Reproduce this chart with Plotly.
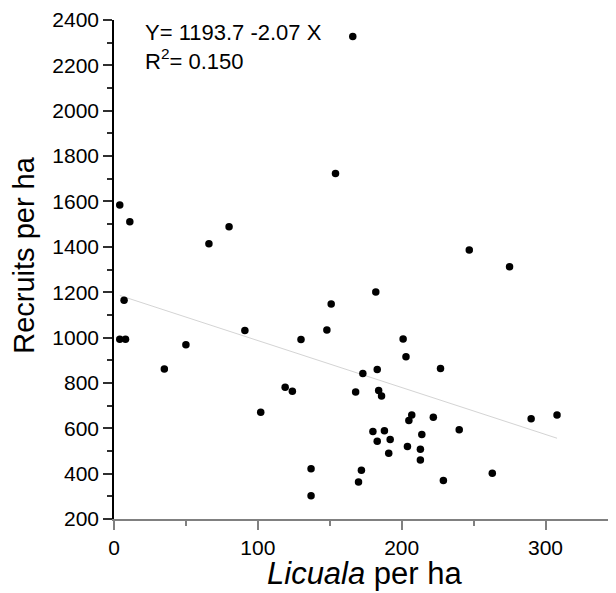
import plotly.graph_objects as go

# Licuala per ha (x) and Recruits per ha (y)
licuala = [7, 4, 8, 35, 50, 91, 130, 119, 124, 102, 137, 137,
           148, 151, 182, 201, 203, 227, 183, 173, 168, 184, 186, 290, 308,
           207, 205, 222, 240, 180, 188, 183, 192, 214, 191, 204, 213, 213,
           172, 170, 229, 263,
           166, 154, 4, 11, 66, 80, 247, 275]
recruits = [1164, 992, 992, 861, 968, 1031, 991, 781, 763, 671, 421, 302,
            1033, 1148, 1201, 994, 915, 863, 859, 841, 760, 767, 742, 642, 658,
            659, 634, 649, 593, 586, 589, 543, 550, 573, 490, 520, 508, 460,
            415, 363, 370, 402,
            2327, 1723, 1584, 1510, 1414, 1488, 1386, 1312]

intercept = 1193.7
slope = -2.07
r_squared = 0.150

x_ticks = [0, 100, 200, 300]
y_ticks = [200, 400, 600, 800, 1000, 1200, 1400, 1600, 1800, 2000, 2200, 2400]

FONT = "Liberation Sans, Arial, Helvetica, sans-serif"

x_line = [min(licuala), max(licuala)]
y_line = [intercept + slope * v for v in x_line]

fig = go.Figure()
fig.add_trace(go.Scatter(x=x_line, y=y_line, mode="lines",
                         line=dict(color="#d4d4d4", width=1),
                         hoverinfo="skip", showlegend=False))
fig.add_trace(go.Scatter(x=licuala, y=recruits, mode="markers",
                         marker=dict(color="black", size=7.5, line=dict(width=0)),
                         showlegend=False))

# page body has an 8px default margin, so the figure is sized to end at the window edge
fig.update_layout(
    width=608, height=585,
    margin=dict(l=106, r=0, t=7, b=74),
    paper_bgcolor="white", plot_bgcolor="white",
    font=dict(family=FONT, color="black", size=21),
    showlegend=False,
)
fig.update_xaxes(
    range=[0, 349], tickvals=x_ticks, ticktext=[str(v) for v in x_ticks],
    showgrid=False, zeroline=False,
    showline=True, linecolor="#808080", linewidth=2,
    ticks="outside", ticklen=9, tickwidth=1.5, tickcolor="#808080",
    minor=dict(dtick=50, ticks="outside", ticklen=5, tickwidth=1.5, tickcolor="#808080"),
    tickfont=dict(size=21, family=FONT, color="black"),
    ticklabeloverflow="allow",
)
fig.update_yaxes(
    range=[200, 2400], tickvals=y_ticks, ticktext=[str(v) for v in y_ticks],
    showgrid=False, zeroline=False,
    showline=True, linecolor="black", linewidth=1.5,
    ticks="outside", ticklen=9, tickwidth=1.5, tickcolor="#303030",
    minor=dict(dtick=100, ticks="outside", ticklen=5, tickwidth=1.5, tickcolor="#303030"),
    tickfont=dict(size=21, family=FONT, color="black"),
    ticklabeloverflow="allow",
)

fig.add_annotation(
    text=f"Y= {intercept} {slope} X<br>R<sup>2</sup>= {r_squared:.3f}",
    xref="paper", yref="paper", x=0.058, y=1.004,
    xanchor="left", yanchor="top", align="left", showarrow=False,
    font=dict(size=22, family=FONT, color="black"),
)
fig.add_annotation(
    text="<i>Licuala</i> per ha",
    xref="paper", yref="paper", x=0.5, y=-0.109,
    xanchor="center", yanchor="middle", showarrow=False,
    font=dict(size=31, family=FONT, color="black"),
)
fig.add_annotation(
    text="Recruits per ha", textangle=-90,
    xref="paper", yref="paper", x=-0.181, y=0.5298,
    xanchor="center", yanchor="middle", showarrow=False,
    font=dict(size=29, family=FONT, color="black"),
)

fig.write_html("out.html")
